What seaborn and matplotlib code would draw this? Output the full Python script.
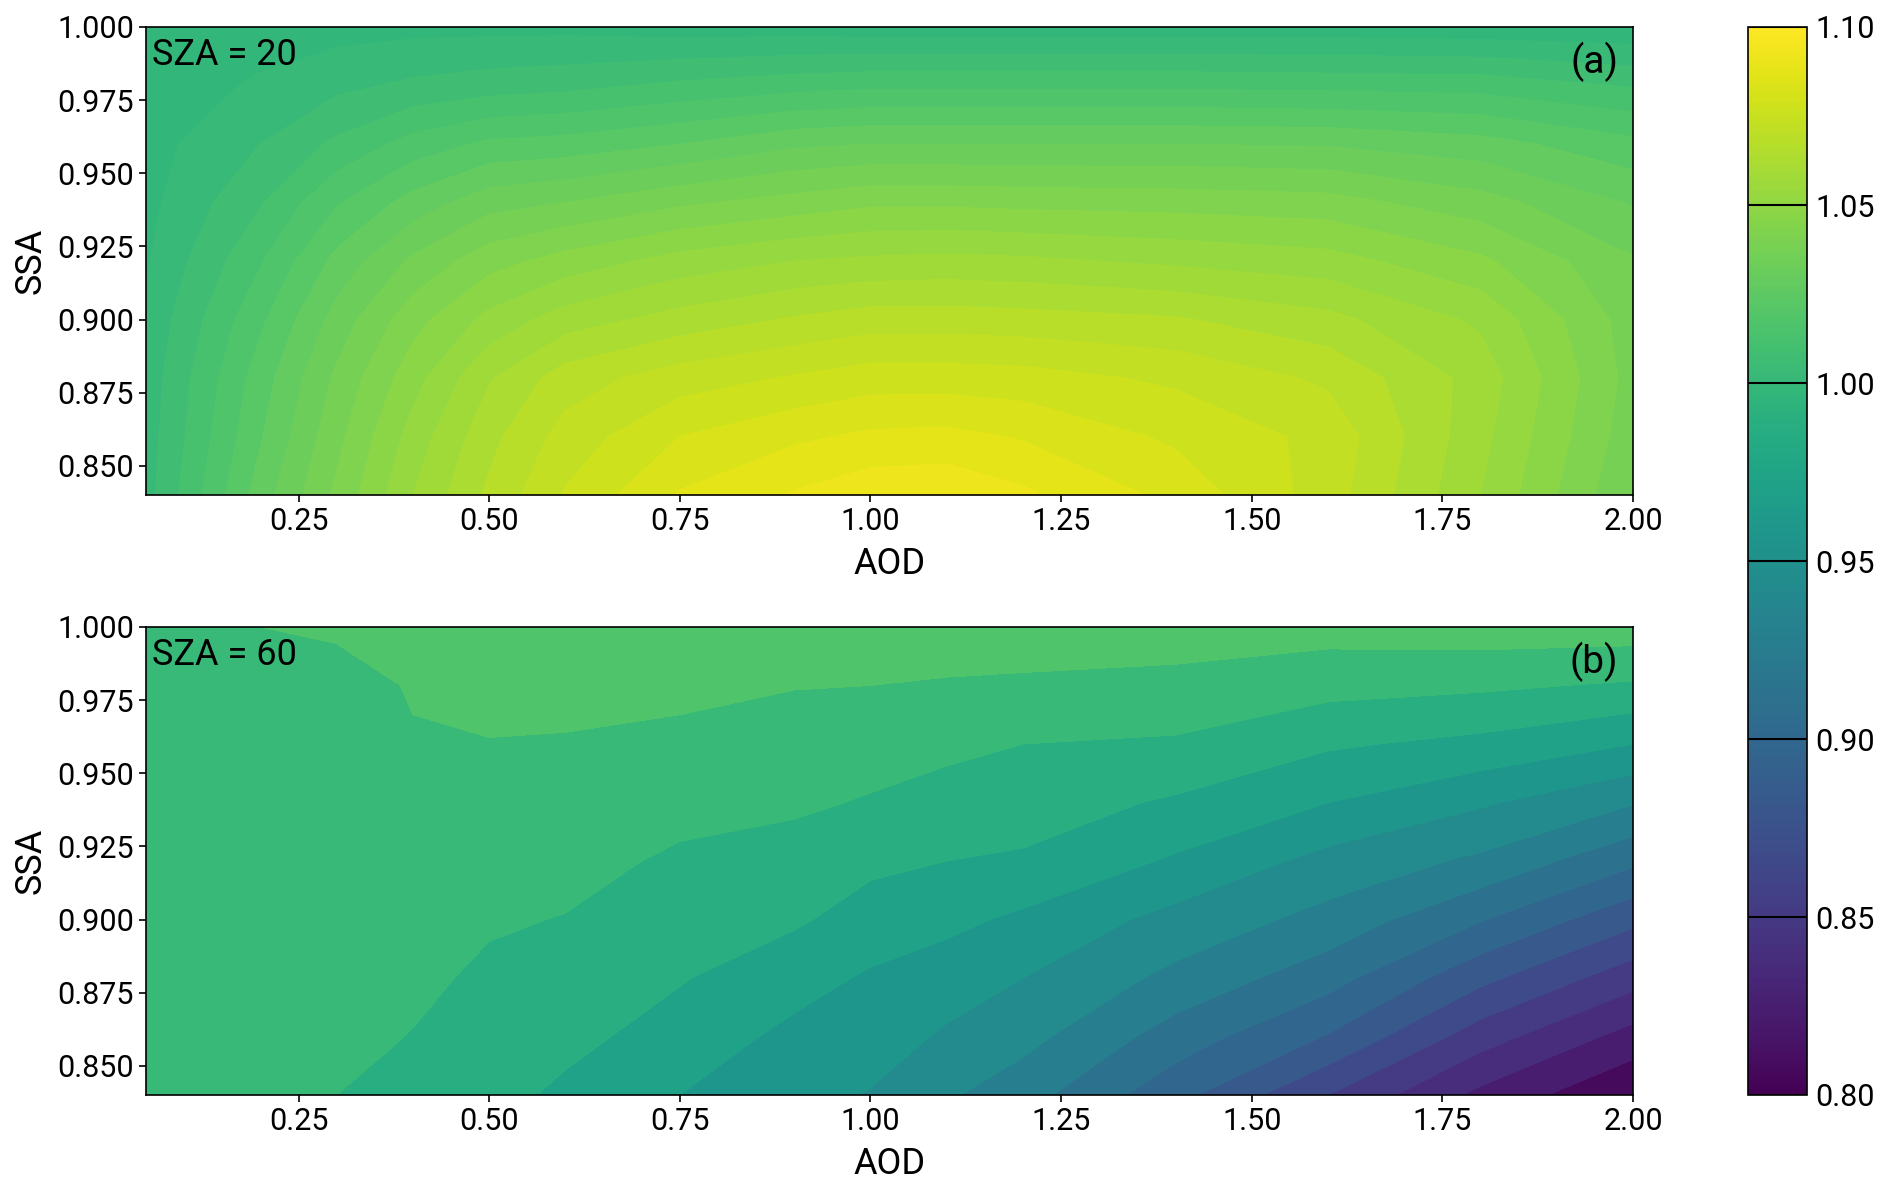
import numpy as np
import pandas as pd
import seaborn as sns
import matplotlib.pyplot as plt
from matplotlib.cm import ScalarMappable
from matplotlib.colors import Normalize

aod = [0.05, 0.2, 0.3, 0.4, 0.5, 0.6, 0.75, 0.9, 1.0, 1.1, 1.2, 1.4, 1.6, 1.8, 2.0]
ssa = [0.84, 0.86, 0.88, 0.90, 0.92, 0.94, 0.96, 0.98, 1.00]

# one row per ssa value
sza20 = [
    [1.003, 1.0275, 1.041, 1.055, 1.066, 1.0755, 1.0855, 1.0905, 1.0935, 1.094, 1.091, 1.0835, 1.0725, 1.055, 1.035],
    [1.0025, 1.0245, 1.0385, 1.052, 1.0635, 1.072, 1.08, 1.084, 1.086, 1.0865, 1.0845, 1.079, 1.0735, 1.0565, 1.037],
    [1.002, 1.0225, 1.036, 1.048, 1.0595, 1.0675, 1.0725, 1.0755, 1.0775, 1.0775, 1.077, 1.074, 1.069, 1.058, 1.038],
    [1.001, 1.019, 1.032, 1.043, 1.0515, 1.0575, 1.062, 1.0655, 1.0675, 1.0675, 1.067, 1.0655, 1.0615, 1.054, 1.0375],
    [0.9995, 1.0145, 1.0265, 1.036, 1.043, 1.047, 1.052, 1.055, 1.056, 1.0565, 1.056, 1.054, 1.052, 1.046, 1.0355],
    [0.9985, 1.0095, 1.0195, 1.027, 1.033, 1.035, 1.039, 1.042, 1.044, 1.044, 1.0435, 1.043, 1.042, 1.037, 1.0295],
    [0.998, 1.005, 1.011, 1.017, 1.021, 1.022, 1.025, 1.029, 1.03, 1.03, 1.03, 1.03, 1.0295, 1.027, 1.0215],
    [0.997, 1.0007, 1.0037, 1.006, 1.0075, 1.0085, 1.011, 1.013, 1.014, 1.014, 1.014, 1.014, 1.0135, 1.013, 1.0095],
    [0.996, 0.9975, 0.998, 0.9985, 0.9985, 0.9985, 0.9975, 0.9975, 0.997, 0.997, 0.997, 0.997, 0.997, 0.9965, 0.996],
]
sza60 = [
    [1.002, 1.0, 0.995, 0.99, 0.985, 0.977, 0.965, 0.955, 0.949, 0.937, 0.926, 0.895, 0.86, 0.826, 0.801],
    [1.003, 1.002, 0.999, 0.9945, 0.988, 0.984, 0.974, 0.961, 0.957, 0.948, 0.94, 0.913, 0.889, 0.852, 0.824],
    [1.003, 1.003, 1.001, 0.998, 0.9925, 0.99, 0.981, 0.971, 0.963, 0.957, 0.95, 0.931, 0.911, 0.879, 0.851],
    [1.004, 1.004, 1.003, 1.0, 0.9965, 0.9945, 0.987, 0.982, 0.974, 0.969, 0.962, 0.945, 0.93, 0.906, 0.879],
    [1.004, 1.005, 1.004, 1.002, 1.0, 0.999, 0.993, 0.99, 0.983, 0.98, 0.978, 0.963, 0.945, 0.932, 0.908],
    [1.005, 1.006, 1.005, 1.005, 1.005, 1.003, 0.999, 0.997, 0.994, 0.99, 0.987, 0.978, 0.965, 0.952, 0.936],
    [1.005, 1.007, 1.006, 1.0095, 1.0095, 1.009, 1.007, 1.004, 1.0, 0.998, 0.995, 0.993, 0.982, 0.976, 0.965],
    [1.006, 1.008, 1.0075, 1.0105, 1.014, 1.014, 1.013, 1.0105, 1.01, 1.009, 1.008, 1.006, 1.0, 0.9975, 0.993],
    [1.006, 1.01, 1.011, 1.015, 1.017, 1.018, 1.018, 1.018, 1.016, 1.016, 1.017, 1.017, 1.016, 1.018, 1.018],
]

levels20 = np.arange(0.995, 1.1001, 0.005)
levels60 = np.arange(0.80, 1.0251, 0.015)
xticks = [0.25, 0.50, 0.75, 1.00, 1.25, 1.50, 1.75, 2.00]
yticks = [0.850, 0.875, 0.900, 0.925, 0.950, 0.975, 1.000]
cticks = [0.80, 0.85, 0.90, 0.95, 1.00, 1.05, 1.10]

sns.set_style('ticks')
plt.rcParams['font.family'] = ['Roboto', 'DejaVu Sans']

cmap = sns.color_palette('viridis', as_cmap=True)
norm = Normalize(0.8, 1.1)

fig = plt.figure(figsize=(18.85, 11.92), dpi=100)
W, H = 1885, 1192
ax1 = fig.add_axes([146 / W, 1 - 495 / H, 1487 / W, 468 / H])
ax2 = fig.add_axes([146 / W, 1 - 1095 / H, 1487 / W, 468 / H])
cax = fig.add_axes([1748 / W, 1 - 1095 / H, 59 / W, 1068 / H])

panels = [(ax1, sza20, levels20, 'SZA = 20', '(a)'), (ax2, sza60, levels60, 'SZA = 60', '(b)')]
for ax, vals, levels, name, letter in panels:
    df = pd.DataFrame(vals, index=ssa, columns=aod)
    ax.contourf(df.columns, df.index, df.values, levels=levels, cmap=cmap, norm=norm)
    ax.set_xlim(0.05, 2.0)
    ax.set_ylim(0.84, 1.0)
    ax.set_xticks(xticks)
    ax.set_xticklabels(['%.2f' % t for t in xticks])
    ax.set_yticks(yticks)
    ax.set_yticklabels(['%.3f' % t for t in yticks])
    ax.tick_params(labelsize=22, length=5, width=1.2, color='black', labelcolor='black')
    ax.set_xlabel('AOD', fontsize=26, color='black', labelpad=7)
    ax.set_ylabel('SSA', fontsize=26, color='black', labelpad=6)
    ax.text(0.004, 0.94, name, transform=ax.transAxes, fontsize=26, color='black', va='center')
    ax.text(0.99, 0.925, letter, transform=ax.transAxes, fontsize=28, color='black', va='center', ha='right')
    for sp in ax.spines.values():
        sp.set_color('black')
        sp.set_linewidth(1.2)

cbar = fig.colorbar(ScalarMappable(norm=norm, cmap=cmap), cax=cax)
cbar.set_ticks(cticks)
cbar.set_ticklabels(['%.2f' % t for t in cticks])
cbar.ax.tick_params(labelsize=22, length=0, pad=6, labelcolor='black')
cbar.ax.hlines(cticks, 0, 1, transform=cbar.ax.get_yaxis_transform(), color='black', lw=1.5)
cbar.outline.set_edgecolor('black')
cbar.outline.set_linewidth(1.2)

fig.savefig('out.png', dpi=100)
